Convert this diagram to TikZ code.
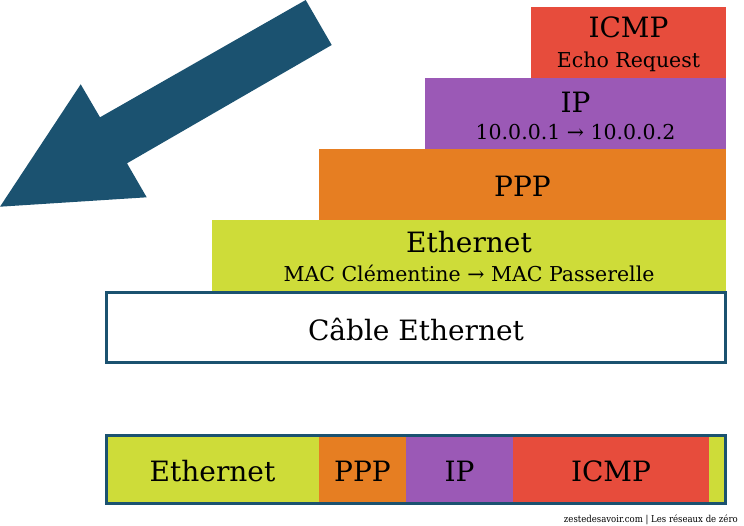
\documentclass[tikz,border=0pt]{standalone}
\usepackage{fontspec}
\setmainfont{DejaVu Serif}
\newfontfamily\footfont{DejaVu Serif Condensed}
\definecolor{cred}{HTML}{E74C3C}
\definecolor{cpurple}{HTML}{9B59B6}
\definecolor{corange}{HTML}{E67E22}
\definecolor{clime}{HTML}{CEDC39}
\definecolor{cblue}{HTML}{1B5270}
\begin{document}
\begin{tikzpicture}[x=1pt,y=-1pt,
  big/.style={font=\fontsize{28}{30}\selectfont, anchor=base, inner sep=0pt},
  small/.style={font=\fontsize{20.5}{22}\selectfont, anchor=base, inner sep=0pt}]
\useasboundingbox (0,0) rectangle (744,525);
% arrow
\fill[cblue] (305.7,0) -- (331.7,45) -- (127,163.3) -- (146.7,197.3) -- (0,206.7) -- (80.7,84.3) -- (100,117.3) -- cycle;
% stack
\fill[cred] (531,7) rectangle (726,77.5);
\fill[cpurple] (425,77.5) rectangle (726,148.5);
\fill[corange] (319,148.5) rectangle (726,219.5);
\fill[clime] (212,219.5) rectangle (726,291);
\draw[cblue, line width=3pt, fill=white] (106.5,292.5) rectangle (725.5,362.5);
\node[big] (icmp) at (628.5,37) {ICMP};
\node[small] (echo) at (628.5,67) {Echo Request};
\node[big] (ip) at (575.5,112) {IP};
\node[small] (ipaddr) at (575.5,139) {10.0.0.1 → 10.0.0.2};
\node[big] (ppp) at (522.5,196) {PPP};
\node[big] (eth) at (469,252) {Ethernet};
\node[small] (mac) at (469,281) {MAC Clémentine → MAC Passerelle};
\node[big] (cable) at (416,340) {Câble Ethernet};
% frame
\fill[clime] (106,434) rectangle (319,505);
\fill[corange] (319,434) rectangle (406,505);
\fill[cpurple] (406,434) rectangle (513,505);
\fill[cred] (513,434) rectangle (709,505);
\fill[clime] (709,434) rectangle (726,505);
\draw[cblue, line width=3pt] (106.5,435.5) rectangle (725.5,503.5);
\node[big] (feth) at (212.5,481) {Ethernet};
\node[big] (fppp) at (362.5,481) {PPP};
\node[big] (fip) at (459.5,481) {IP};
\node[big] (ficmp) at (611,481) {ICMP};
\node[font=\footfont\fontsize{9.5}{11}\selectfont, anchor=base east, inner sep=0pt] (foot) at (738,522) {zestedesavoir.com | Les réseaux de zéro};
\end{tikzpicture}
\end{document}
